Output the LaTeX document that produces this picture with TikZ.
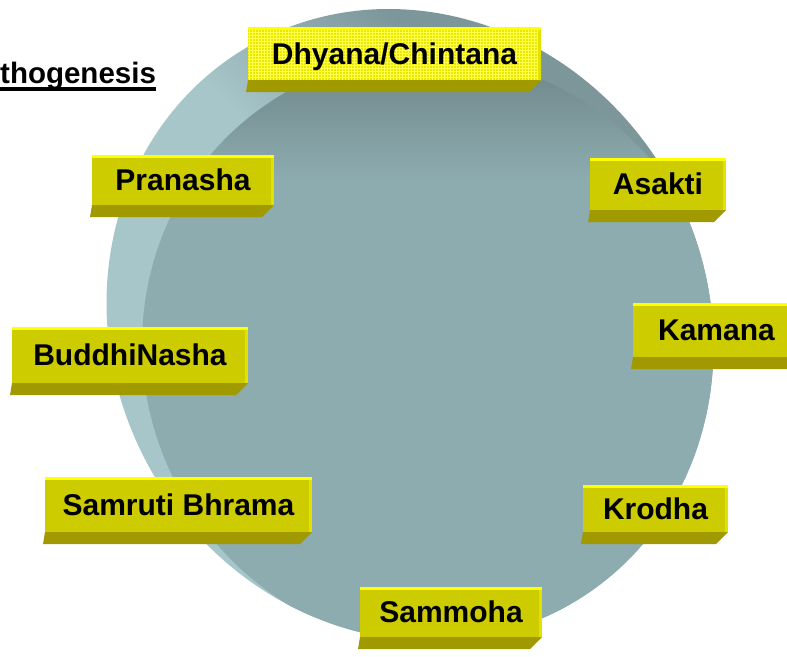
\documentclass[tikz,border=0pt]{standalone}
\usepackage{fontspec}
\setsansfont{Liberation Sans}
\usepackage{xcolor}
\definecolor{boxFace}{HTML}{CCCC00}
\definecolor{boxFaceLight}{HTML}{E8E800}
\definecolor{boxSide}{HTML}{A09A00}
\definecolor{boxTop}{HTML}{FFFF00}
\definecolor{boxRight}{HTML}{E2E200}
\definecolor{diskRim}{HTML}{A7C6CA}
\definecolor{diskRimDark}{HTML}{7D969A}
\definecolor{diskFace}{HTML}{8DACAF}
\definecolor{diskFaceDark}{HTML}{6F878B}
\usepackage{tikz}
\usetikzlibrary{calc,patterns}
\pgfdeclareverticalshading{rimShade}{100bp}{color(0bp)=(diskRim); color(52bp)=(diskRim); color(66bp)=(diskRimDark); color(100bp)=(diskRimDark)}
\pgfdeclareverticalshading{faceShade}{100bp}{color(0bp)=(diskFace); color(65bp)=(diskFace); color(75bp)=(diskFaceDark); color(100bp)=(diskFaceDark)}
\tikzset{%
  stageBox/.style={%
    rectangle,
    fill=boxFace,
    inner sep=0pt,
    outer sep=0pt,
    font=\sffamily\bfseries\fontsize{30}{34}\selectfont,
    text height=21.5pt,
    text depth=0pt,
    align=center
  },
  boxBottom/.style={%
    fill=boxSide
  },
  boxRim/.style={%
    line width=3pt,
    draw=boxTop
  },
  boxSideRim/.style={%
    line width=3pt,
    draw=boxRight
  },
  titleText/.style={%
    inner sep=0pt,
    font=\sffamily\bfseries\fontsize{29.5}{34}\selectfont
  }
}

\begin{document}
\begin{tikzpicture}[x=1pt,y=-1pt]
  \useasboundingbox (0,0) rectangle (787,656);

  % the disk
  \shade[shading=rimShade, shading angle=-45] (410,325) ellipse [x radius=297, y radius=322, rotate=30];
  \begin{scope}
    \clip (410,325) ellipse [x radius=297, y radius=322, rotate=30];
    \shade[shading=faceShade] (434,352) ellipse [x radius=289.5, y radius=299, rotate=30];
  \end{scope}

  % title, cut at the left edge
  \node[titleText, anchor=base west] (title) at (0,83) {thogenesis};
  \draw[line width=3.5pt] ([yshift=-6pt]title.base west) -- ([yshift=-6pt]title.base east);

  % stages
  \node[stageBox, minimum width=293, minimum height=53, fill=boxFaceLight,
        postaction={pattern=grid, pattern color=yellow!70!white}] (dhyana) at (394.5,53.5) {Dhyana/Chintana};
  \node[stageBox, minimum width=182, minimum height=50] (pranasha) at (183,180) {Pranasha};
  \node[stageBox, minimum width=136, minimum height=52] (asakti) at (658,184) {Asakti};
  \node[stageBox, minimum width=167, minimum height=54] (kamana) at (716.5,330) {Kamana};
  \node[stageBox, minimum width=236, minimum height=56] (buddhi) at (130,355) {BuddhiNasha};
  \node[stageBox, minimum width=267, minimum height=55] (samruti) at (178.5,504.5) {Samruti Bhrama};
  \node[stageBox, minimum width=145, minimum height=47] (krodha) at (655.5,508.5) {Krodha};
  \node[stageBox, minimum width=182, minimum height=50] (sammoha) at (451,612) {Sammoha};

  % bevelled undersides
  \foreach \n in {dhyana,pranasha,asakti,kamana,buddhi,samruti,krodha,sammoha}{
    \fill[boxBottom] (\n.south west) -- (\n.south east) -- ([xshift=-12pt,yshift=-12pt]\n.south east)
      -- ([xshift=-2pt,yshift=-12pt]\n.south west) -- cycle;
    \draw[boxSideRim] ([xshift=-1.5pt]\n.north east) -- ([xshift=-1.5pt]\n.south east);
    \draw[boxRim] ([yshift=-1.5pt]\n.north west) -- ([yshift=-1.5pt]\n.north east);
  }
\end{tikzpicture}
\end{document}
